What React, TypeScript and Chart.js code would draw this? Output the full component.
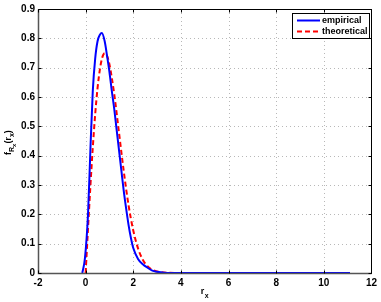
import React, { useEffect, useRef } from "react";
import { Chart, registerables } from "chart.js";

Chart.register(...registerables);

const empiricalX = [-0.14, -0.03, 0.1, 0.2, 0.3, 0.4, 0.5, 0.6, 0.68, 0.8, 0.9, 1.0, 1.1, 1.2, 1.3, 1.4, 1.5, 1.6, 1.7, 1.8, 1.9, 2.0, 2.2, 2.4, 2.6, 2.8, 3.0, 3.3, 4.0, 6.0, 8.0, 10.0, 11.1];
const empiricalY = [0, 0.05, 0.2, 0.42, 0.62, 0.73, 0.79, 0.812, 0.818, 0.79, 0.74, 0.685, 0.62, 0.56, 0.49, 0.42, 0.35, 0.28, 0.22, 0.165, 0.12, 0.085, 0.048, 0.03, 0.018, 0.008, 0.004, 0.001, 0, 0, 0, 0, 0];

const theoreticalX = [0, 0.1, 0.2, 0.3, 0.4, 0.5, 0.6, 0.7, 0.8, 0.9, 1.0, 1.2, 1.4, 1.6, 1.8, 2.0, 2.2, 2.4, 2.6, 2.8, 3.0, 3.5, 4.0, 6.0, 8.0, 10.0, 11.1];
const theoreticalY = [0, 0.151, 0.296, 0.427, 0.54, 0.63, 0.695, 0.735, 0.749, 0.74, 0.711, 0.61, 0.479, 0.347, 0.232, 0.145, 0.084, 0.045, 0.023, 0.011, 0.005, 0.0005, 0, 0, 0, 0, 0];

const xTicks = [-2, 0, 2, 4, 6, 8, 10, 12];
const yTicks = [0, 0.1, 0.2, 0.3, 0.4, 0.5, 0.6, 0.7, 0.8, 0.9];
const seriesNames = ["empirical", "theoretical"];

const FONT = "'Liberation Sans', Arial, sans-serif";

const framePlugin = {
  id: "frame",
  beforeDatasetsDraw(chart: any) {
    const { ctx, chartArea: a, scales } = chart;
    const xs = scales.x, ys = scales.y;
    ctx.save();
    ctx.strokeStyle = "#b8b8b8";
    ctx.lineWidth = 1;
    ctx.setLineDash([1, 3]);
    xTicks.forEach((v) => {
      const px = Math.round(xs.getPixelForValue(v)) + 0.5;
      if (px <= a.left + 1 || px >= a.right - 1) return;
      ctx.beginPath(); ctx.moveTo(px, a.top); ctx.lineTo(px, a.bottom); ctx.stroke();
    });
    yTicks.forEach((v) => {
      const py = Math.round(ys.getPixelForValue(v)) + 0.5;
      if (py <= a.top + 1 || py >= a.bottom - 1) return;
      ctx.beginPath(); ctx.moveTo(a.left, py); ctx.lineTo(a.right, py); ctx.stroke();
    });
    ctx.restore();
  },
  afterDatasetsDraw(chart: any) {
    const { ctx, chartArea: a, scales } = chart;
    const xs = scales.x, ys = scales.y;
    ctx.save();
    ctx.setLineDash([]);
    ctx.strokeStyle = "#000";
    ctx.lineWidth = 1;
    const L = Math.round(a.left) + 0.5, R = Math.round(a.right) + 0.5;
    const T = Math.round(a.top) + 0.5, B = Math.round(a.bottom) + 0.5;
    ctx.strokeRect(L, T, R - L, B - T);
    ctx.strokeStyle = "#555";
    ctx.lineWidth = 1.5;
    ctx.beginPath(); ctx.moveTo(L, T); ctx.lineTo(L, B); ctx.lineTo(R, B); ctx.stroke();
    ctx.lineWidth = 1;
    ctx.strokeStyle = "#000";
    xTicks.forEach((v) => {
      const px = Math.round(xs.getPixelForValue(v)) + 0.5;
      ctx.beginPath(); ctx.moveTo(px, B); ctx.lineTo(px, B - 3); ctx.stroke();
      ctx.beginPath(); ctx.moveTo(px, T); ctx.lineTo(px, T + 3); ctx.stroke();
    });
    yTicks.forEach((v) => {
      const py = Math.round(ys.getPixelForValue(v)) + 0.5;
      ctx.beginPath(); ctx.moveTo(L, py); ctx.lineTo(L + 3, py); ctx.stroke();
      ctx.beginPath(); ctx.moveTo(R, py); ctx.lineTo(R - 3, py); ctx.stroke();
    });

    // legend
    const lx = 292, ly = 13, lw = 77, lh = 25;
    ctx.fillStyle = "#fff";
    ctx.fillRect(lx, ly, lw, lh);
    ctx.strokeStyle = "#000";
    ctx.strokeRect(lx + 0.5, ly + 0.5, lw, lh);
    ctx.lineWidth = 2;
    ctx.strokeStyle = "#0000ff";
    ctx.beginPath(); ctx.moveTo(297, 20.5); ctx.lineTo(320, 20.5); ctx.stroke();
    ctx.strokeStyle = "#ff0000";
    ctx.setLineDash([5, 3]);
    ctx.beginPath(); ctx.moveTo(297, 31.5); ctx.lineTo(320, 31.5); ctx.stroke();
    ctx.setLineDash([]);
    ctx.fillStyle = "#000";
    ctx.font = `bold 9px ${FONT}`;
    ctx.textBaseline = "middle";
    ctx.textAlign = "left";
    ctx.fillText(seriesNames[0], 322, 20.5);
    ctx.fillText(seriesNames[1], 322, 31.5);

    // x title r_x
    ctx.font = `bold 9px ${FONT}`;
    ctx.textBaseline = "alphabetic";
    const cx = (a.left + a.right) / 2;
    ctx.fillText("r", cx - 4, 294);
    ctx.font = `bold 7px ${FONT}`;
    ctx.fillText("x", cx, 298);

    // y title f_{R_x}(r_x)
    ctx.translate(11, 141);
    ctx.rotate(-Math.PI / 2);
    let x = -14;
    const seg = (t: string, size: number, dy: number) => {
      ctx.font = `bold ${size}px ${FONT}`;
      ctx.fillText(t, x, dy);
      x += ctx.measureText(t).width;
    };
    seg("f", 9, 0);
    seg("R", 7, 3);
    seg("x", 6, 5);
    seg("(r", 9, 0);
    seg("x", 7, 3);
    seg(")", 9, 0);
    ctx.restore();
  },
};

export default function App() {
  const ref = useRef<HTMLCanvasElement | null>(null);
  useEffect(() => {
    document.body.style.margin = "0";
    const canvas = ref.current;
    if (!canvas) return;
    const chart = new Chart(canvas, {
      type: "line",
      data: {
        datasets: [
          {
            label: seriesNames[0],
            data: empiricalX.map((x, i) => ({ x, y: empiricalY[i] })),
            borderColor: "#0000ff",
            borderWidth: 2,
            pointRadius: 0,
            cubicInterpolationMode: "monotone",
            fill: false,
          },
          {
            label: seriesNames[1],
            data: theoreticalX.map((x, i) => ({ x, y: theoreticalY[i] })),
            borderColor: "#ff0000",
            borderWidth: 2,
            borderDash: [5, 3],
            pointRadius: 0,
            cubicInterpolationMode: "monotone",
            fill: false,
          },
        ],
      },
      options: {
        responsive: false,
        animation: false,
        layout: { padding: { left: 0, top: 9, right: 8, bottom: 0 } },
        plugins: { legend: { display: false }, tooltip: { enabled: false } },
        scales: {
          x: {
            type: "linear",
            min: -2,
            max: 12,
            afterBuildTicks: (s: any) => { s.ticks = xTicks.map((v) => ({ value: v })); },
            afterFit: (s: any) => { s.height = 29; },
            grid: { display: false, drawTicks: false },
            border: { display: false },
            ticks: {
              padding: 4,
              color: "#000",
              font: { family: FONT, size: 10, weight: "bold" },
              maxRotation: 0,
              callback: (v: any) => String(v),
            },
          },
          y: {
            type: "linear",
            min: 0,
            max: 0.9,
            afterBuildTicks: (s: any) => { s.ticks = yTicks.map((v) => ({ value: v })); },
            afterFit: (s: any) => { s.width = 38; },
            grid: { display: false, drawTicks: false },
            border: { display: false },
            ticks: {
              padding: 3,
              color: "#000",
              font: { family: FONT, size: 10, weight: "bold" },
              callback: (v: any) => (v === 0 ? "0" : Number(v).toFixed(1)),
            },
          },
        },
      } as any,
      plugins: [framePlugin],
    });
    return () => chart.destroy();
  }, []);
  return (
    <div style={{ width: 381, height: 302 }}>
      <canvas ref={ref} width={381} height={302} style={{ display: "block" }} />
    </div>
  );
}
